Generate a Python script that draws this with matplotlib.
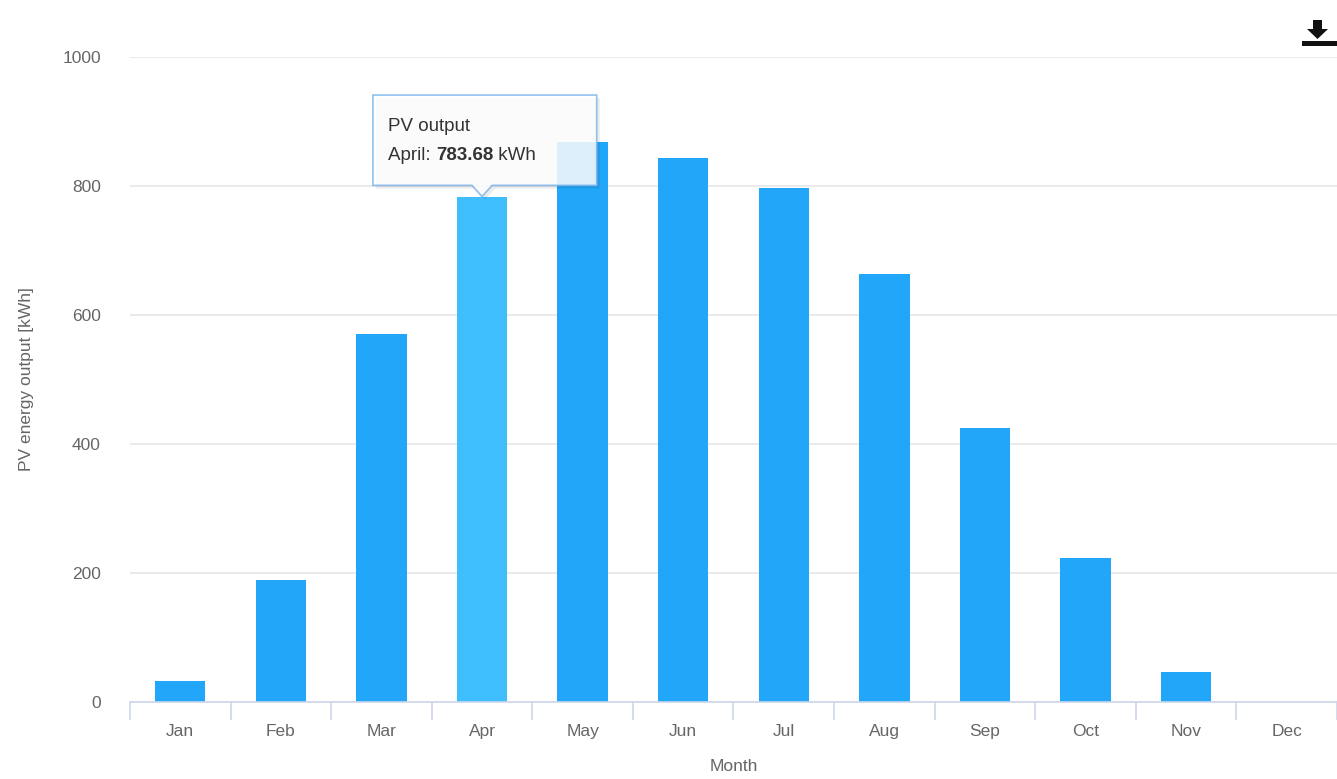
import matplotlib.pyplot as plt
import numpy as np
from matplotlib.patches import Polygon, Rectangle

plt.rcParams['font.family'] = ['Liberation Sans', 'DejaVu Sans']

months = ['Jan', 'Feb', 'Mar', 'Apr', 'May', 'Jun', 'Jul', 'Aug', 'Sep', 'Oct', 'Nov', 'Dec']
pv_output = [32.6, 188.5, 570.5, 783.68, 868.7, 844.0, 797.4, 663.6, 424.3, 222.8, 46.3, 0.0]
yticks = [0, 200, 400, 600, 800, 1000]
hover_idx = 3

fig = plt.figure(figsize=(13.37, 7.79), dpi=100)
ax = fig.add_axes([130 / 1337, 77 / 779, 1207 / 1337, 645 / 779])

x = np.arange(len(months))
colors = ['#22a6fa'] * len(months)
colors[hover_idx] = '#3ebefc'
ax.bar(x, pv_output, width=0.5, color=colors, zorder=2)

ax.set_xlim(-0.5, len(months) - 0.5)
ax.set_ylim(0, 1000)

# grid and axes
ax.set_yticks(yticks)
ax.grid(axis='y', color='#e6e6e6', linewidth=1.2, zorder=0)
for s in ['top', 'right', 'left']:
    ax.spines[s].set_visible(False)
ax.spines['bottom'].set_color('#ccd6eb')
ax.spines['bottom'].set_linewidth(1.2)
ax.tick_params(axis='y', length=0, pad=21, labelsize=12.5, labelcolor='#666666')

ax.set_xticks(x)
ax.set_xticklabels(months)
ax.set_xticks(np.arange(len(months) + 1) - 0.5, minor=True)
ax.tick_params(axis='x', which='major', length=0, pad=16, labelsize=12.5, labelcolor='#666666')
ax.tick_params(axis='x', which='minor', length=13, width=1.2, color='#ccd6eb', direction='out')

ax.set_ylabel('PV energy output [kWh]', fontsize=12.5, color='#666666', labelpad=20)
ax.set_xlabel('Month', fontsize=12.5, color='#666666', labelpad=14)

# tooltip
val = pv_output[hover_idx]
bx0, bx1 = hover_idx - 1.085, hover_idx + 1.14
by0, by1 = 801, 941
tip = [(bx0, by1), (bx1, by1), (bx1, by0), (hover_idx + 0.1, by0), (hover_idx, val),
       (hover_idx - 0.1, by0), (bx0, by0)]
shadow = Polygon([(px + 0.03, py - 5) for px, py in tip], closed=True,
                 facecolor='#000000', alpha=0.08, edgecolor='none', zorder=4, clip_on=False)
ax.add_patch(shadow)
box = Polygon(tip, closed=True, facecolor='#ffffff', alpha=0.85, edgecolor='#7cb5ec',
              linewidth=1.2, zorder=5, clip_on=False)
ax.add_patch(box)
ax.text(bx0 + 0.15, 893, 'PV output', fontsize=13.5, color='#333333', va='center', zorder=6)
t1 = ax.text(bx0 + 0.15, 847, 'April: ', fontsize=13.5, color='#333333', va='center', zorder=6)
t2 = ax.annotate(f'{val:.2f}', xy=(1, 0), xycoords=t1, va='bottom', ha='left',
                 fontsize=13.5, color='#333333', fontweight='bold', zorder=6)
ax.annotate(' kWh', xy=(1, 0), xycoords=t2, va='bottom', ha='left',
            fontsize=13.5, color='#333333', zorder=6)

# download icon
fig.patches.append(Polygon([(1313 / 1337, 1 - 20 / 779), (1322 / 1337, 1 - 20 / 779),
                            (1322 / 1337, 1 - 29 / 779), (1328 / 1337, 1 - 29 / 779),
                            (1317.5 / 1337, 1 - 39 / 779), (1307 / 1337, 1 - 29 / 779),
                            (1313 / 1337, 1 - 29 / 779)],
                           closed=True, transform=fig.transFigure, facecolor='#111111',
                           edgecolor='none'))
fig.patches.append(Rectangle((1302 / 1337, 1 - 46 / 779), 35 / 1337, 5 / 779,
                             transform=fig.transFigure, facecolor='#111111', edgecolor='none'))

fig.savefig('out.png', dpi=100)
